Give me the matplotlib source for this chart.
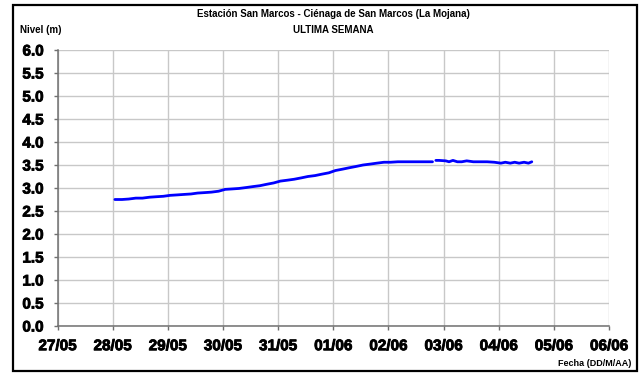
import numpy as np
import matplotlib
matplotlib.use("Agg")
import matplotlib.pyplot as plt
import matplotlib.patheffects as pe
from matplotlib.patches import Rectangle

plt.rcParams['font.family'] = 'Liberation Sans'
plt.rcParams['font.weight'] = 'bold'

# x tick labels (days)
tick_labels = ["27/05", "28/05", "29/05", "30/05", "31/05", "01/06",
               "02/06", "03/06", "04/06", "05/06", "06/06"]

# time in days since 27/05 00:00 ; level in m (NaN = missing)
days = [1.04, 1.17, 1.29, 1.42, 1.54, 1.67, 1.79, 1.92,
        2.04, 2.17, 2.29, 2.42, 2.54, 2.67, 2.79, 2.92,
        3.04, 3.17, 3.29, 3.42, 3.54, 3.67, 3.79, 3.92,
        4.04, 4.17, 4.29, 4.42, 4.54, 4.67, 4.79, 4.92,
        5.04, 5.17, 5.29, 5.42, 5.54, 5.67, 5.79, 5.92,
        6.04, 6.17, 6.29, 6.42, 6.54, 6.67, 6.80, 6.83,
        6.86, 6.92, 7.04, 7.10, 7.17, 7.25, 7.33, 7.42, 7.54, 7.67, 7.79, 7.92,
        8.04, 8.12, 8.21, 8.29, 8.37, 8.46, 8.54, 8.60]
level = [2.75, 2.75, 2.76, 2.78, 2.78, 2.80, 2.81, 2.82,
         2.84, 2.85, 2.86, 2.87, 2.89, 2.90, 2.91, 2.93,
         2.97, 2.98, 2.99, 3.01, 3.03, 3.05, 3.08, 3.11,
         3.15, 3.17, 3.19, 3.22, 3.25, 3.27, 3.30, 3.33,
         3.38, 3.41, 3.44, 3.47, 3.50, 3.52, 3.54, 3.56,
         3.56, 3.57, 3.57, 3.57, 3.57, 3.57, 3.57, np.nan,
         3.60, 3.60, 3.59, 3.57, 3.60, 3.57, 3.57, 3.59, 3.57, 3.57, 3.57, 3.56,
         3.54, 3.56, 3.54, 3.56, 3.54, 3.56, 3.54, 3.57]

title1 = "Estación San Marcos - Ciénaga de San Marcos (La Mojana)"
title2 = "ULTIMA SEMANA"

FONT = dict(family="Liberation Sans", weight="bold")
HEAVY = [pe.withStroke(linewidth=0.6, foreground="black")]

W, H = 641, 374
fig = plt.figure(figsize=(W/100, H/100), dpi=100)
ax = fig.add_axes([57.5/W, 1-326/H, (609-57.5)/W, (326-50)/H])

ax.plot(days, level, color="#0000FF", lw=2.0, solid_capstyle="round")

ax.set_xlim(0, 10)
ax.set_ylim(0, 6)
ax.set_xticks(range(len(tick_labels)))
ax.set_xticklabels(tick_labels, fontdict=dict(FONT, size=11))
yt = np.arange(0, 6.01, 0.5)
ax.set_yticks(yt)
ax.set_yticklabels([f"{v:.1f}" for v in yt], fontdict=dict(FONT, size=11))

ax.grid(True, color="#c8c8c8", lw=1.0)
ax.set_axisbelow(True)
for s in ["top", "right"]:
    ax.spines[s].set_visible(False)
for s in ["left", "bottom"]:
    ax.spines[s].set_color("#707070")
    ax.spines[s].set_linewidth(1.1)
ax.tick_params(axis="both", colors="#707070", length=3, width=1.0,
               labelcolor="black")
ax.tick_params(axis="y", pad=7)
ax.tick_params(axis="x", pad=6.5)
for lab in ax.get_xticklabels() + ax.get_yticklabels():
    lab.set_path_effects(HEAVY)

fig.text(333/W, 1-14/H, title1, ha="center", va="center", fontsize=7, **FONT)
fig.text(333/W, 1-30/H, title2, ha="center", va="center", fontsize=7, **FONT)
fig.text(20/W, 1-30/H, "Nivel (m)", ha="left", va="center", fontsize=7, **FONT)
fig.text(631/W, 1-364/H, "Fecha (DD/M/AA)", ha="right", va="center",
         fontsize=6.5, **FONT)

fig.patches.append(Rectangle((13/W, 1-371/H), (637-13)/W, (371-5)/H,
                             transform=fig.transFigure,
                             fill=False, edgecolor="black", lw=1.6))

fig.savefig("out.png", dpi=100)
